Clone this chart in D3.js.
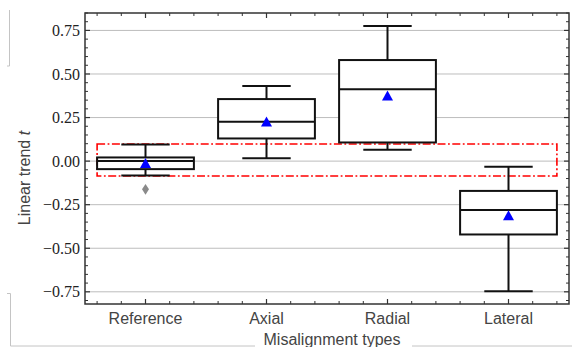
<!DOCTYPE html>
<html>
<head>
<meta charset="utf-8">
<script src="https://cdn.jsdelivr.net/npm/d3@7"></script>
<style>
	body { margin: 0; background: #fff; }
	svg { display: block; }
</style>
</head>
<body>
<svg></svg>
<script>
const width = 572;
const height = 347;
const margin = {top: 13, right: 3, bottom: 43, left: 85};
const frameColor = '#333';
const gridColor = '#bdbdbd';
const boxColor = '#111';
const meanColor = '#0000ff';
const outlierColor = '#8a8a8a';
const highlightColor = '#ff0000';

// data
const categories = ['Reference', 'Axial', 'Radial', 'Lateral'];
const whiskerLow = [-0.082, 0.017, 0.065, -0.747];
const q1 = [-0.046, 0.130, 0.107, -0.421];
const median = [0.000, 0.226, 0.412, -0.280];
const q3 = [0.021, 0.356, 0.580, -0.171];
const whiskerHigh = [0.096, 0.431, 0.776, -0.033];
const means = [-0.011, 0.228, 0.376, -0.311];
const outlierCategory = ['Reference'];
const outlierValue = [-0.162];
const yTicks = [-0.75, -0.50, -0.25, 0.00, 0.25, 0.50, 0.75];
const highlightRange = [-0.085, 0.098];
const yDomain = [-0.82, 0.85];

var svg;
var x;
var y;
var bw;
var layer;
var data;

function init(){
	svg = d3.select('svg').attr('width', width).attr('height', height);

	data = categories.map((c, i) => ({
		cat: c, lo: whiskerLow[i], q1: q1[i], med: median[i],
		q3: q3[i], hi: whiskerHigh[i], mean: means[i]
	}));

	x = d3.scaleBand().domain(categories)
	.range([margin.left, width - margin.right]).padding(0);
	y = d3.scaleLinear().domain(yDomain)
	.range([height - margin.bottom, margin.top]);
	bw = x.bandwidth();

	layer = {};
	for(var name of ['deco', 'grid', 'highlight', 'boxes', 'marks', 'frame', 'labels'])
		layer[name] = svg.append('g');

	// leftover frame lines of the cropped figure
	var deco = layer['deco'].attr('stroke', '#c4c4c4').attr('fill', 'none');
	deco.append('path').attr('d', 'M7,66H9.5V10');
	deco.append('path').attr('d', 'M7,293.5H10.5V346H' + width);

	// horizontal grid
	layer['grid'].selectAll('line').data(yTicks).enter().append('line')
	.attr('x1', margin.left).attr('x2', width - margin.right)
	.attr('y1', d => y(d)).attr('y2', d => y(d))
	.attr('stroke', gridColor).attr('stroke-width', 1);

	// red dash-dot highlight box
	layer['highlight'].append('rect')
	.attr('x', x(categories[0]) + 0.1*bw)
	.attr('width', x(categories[categories.length-1]) + 0.9*bw - (x(categories[0]) + 0.1*bw))
	.attr('y', y(highlightRange[1]))
	.attr('height', y(highlightRange[0]) - y(highlightRange[1]))
	.attr('fill', 'none').attr('stroke', highlightColor).attr('stroke-width', 1.6)
	.attr('stroke-dasharray', '8,2.5,1.8,2.5');

	// boxes
	var g = layer['boxes'].selectAll('g.box').data(data).enter().append('g')
	.classed('box', true)
	.attr('stroke', boxColor).attr('stroke-width', 2).attr('fill', 'none');

	g.append('line').attr('x1', d => x(d.cat) + bw/2).attr('x2', d => x(d.cat) + bw/2)
	.attr('y1', d => y(d.hi)).attr('y2', d => y(d.q3));
	g.append('line').attr('x1', d => x(d.cat) + bw/2).attr('x2', d => x(d.cat) + bw/2)
	.attr('y1', d => y(d.q1)).attr('y2', d => y(d.lo));
	g.append('line').attr('x1', d => x(d.cat) + 0.3*bw).attr('x2', d => x(d.cat) + 0.7*bw)
	.attr('y1', d => y(d.hi)).attr('y2', d => y(d.hi));
	g.append('line').attr('x1', d => x(d.cat) + 0.3*bw).attr('x2', d => x(d.cat) + 0.7*bw)
	.attr('y1', d => y(d.lo)).attr('y2', d => y(d.lo));
	g.append('rect').attr('x', d => x(d.cat) + 0.1*bw).attr('width', 0.8*bw)
	.attr('y', d => y(d.q3)).attr('height', d => y(d.q1) - y(d.q3))
	.attr('fill', '#fff');
	g.append('line').attr('x1', d => x(d.cat) + 0.1*bw).attr('x2', d => x(d.cat) + 0.9*bw)
	.attr('y1', d => y(d.med)).attr('y2', d => y(d.med));

	// means as triangles, outliers as thin diamonds
	layer['marks'].selectAll('path.mean').data(data).enter().append('path')
	.classed('mean', true)
	.attr('transform', d => 'translate(' + (x(d.cat) + bw/2) + ',' + y(d.mean) + ')')
	.attr('d', 'M0,-5L5.5,5L-5.5,5Z')
	.attr('fill', meanColor);

	layer['marks'].selectAll('path.outlier').data(outlierValue).enter().append('path')
	.classed('outlier', true)
	.attr('transform', (d, i) => 'translate(' + (x(outlierCategory[i]) + bw/2) + ',' + y(d) + ')')
	.attr('d', 'M0,-5.3L3.5,0L0,5.3L-3.5,0Z')
	.attr('fill', outlierColor);

	// frame with inward ticks on all four sides
	var top = margin.top, bottom = height - margin.bottom;
	var left = margin.left, right = width - margin.right;
	var frame = layer['frame'].attr('stroke', frameColor).attr('fill', 'none');

	var xMinor = [];
	categories.forEach(c => { for(var k=1; k<10; k+=2) if(k != 5) xMinor.push(x(c) + k*bw/10); });
	var xMajor = categories.map(c => x(c) + bw/2);
	var yMinor = d3.range(-16, 18).map(v => v*0.05).filter(v => !yTicks.some(t => Math.abs(t - v) < 1e-6));

	frame.selectAll('line.xmin').data(xMinor).enter().append('line')
	.attr('x1', d => d).attr('x2', d => d).attr('y1', bottom).attr('y2', bottom - 3)
	.attr('stroke-width', 1);
	frame.selectAll('line.xmint').data(xMinor).enter().append('line')
	.attr('x1', d => d).attr('x2', d => d).attr('y1', top).attr('y2', top + 3)
	.attr('stroke-width', 1);
	frame.selectAll('line.xmaj').data(xMajor).enter().append('line')
	.attr('x1', d => d).attr('x2', d => d).attr('y1', bottom).attr('y2', bottom - 5)
	.attr('stroke-width', 1.2);
	frame.selectAll('line.xmajt').data(xMajor).enter().append('line')
	.attr('x1', d => d).attr('x2', d => d).attr('y1', top).attr('y2', top + 5)
	.attr('stroke-width', 1.2);

	frame.selectAll('line.ymin').data(yMinor).enter().append('line')
	.attr('y1', d => y(d)).attr('y2', d => y(d)).attr('x1', left).attr('x2', left + 3)
	.attr('stroke-width', 1);
	frame.selectAll('line.yminr').data(yMinor).enter().append('line')
	.attr('y1', d => y(d)).attr('y2', d => y(d)).attr('x1', right).attr('x2', right - 3)
	.attr('stroke-width', 1);
	frame.selectAll('line.ymaj').data(yTicks).enter().append('line')
	.attr('y1', d => y(d)).attr('y2', d => y(d)).attr('x1', left).attr('x2', left + 5)
	.attr('stroke-width', 1.2);
	frame.selectAll('line.ymajr').data(yTicks).enter().append('line')
	.attr('y1', d => y(d)).attr('y2', d => y(d)).attr('x1', right).attr('x2', right - 5)
	.attr('stroke-width', 1.2);

	frame.append('rect').attr('x', left).attr('y', top)
	.attr('width', right - left).attr('height', bottom - top)
	.attr('stroke-width', 1.5);

	// tick labels
	var fmt = d3.format('.2f');
	layer['labels'].selectAll('text.ytick').data(yTicks).enter().append('text')
	.attr('x', left - 5).attr('y', d => y(d)).attr('dy', '0.35em')
	.attr('text-anchor', 'end')
	.style('font-family', '"Liberation Serif", serif').style('font-size', '16px')
	.style('fill', '#222')
	.text(d => fmt(d));

	layer['labels'].selectAll('text.xtick').data(categories).enter().append('text')
	.attr('x', d => x(d) + bw/2).attr('y', 324)
	.attr('text-anchor', 'middle')
	.style('font-family', '"Liberation Sans", Arial, sans-serif').style('font-size', '16px')
	.style('fill', '#444')
	.text(d => d);

	// axis titles
	layer['labels'].append('rect').attr('x', 255).attr('y', 330)
	.attr('width', 157).attr('height', 17).attr('fill', '#fff');
	layer['labels'].append('text')
	.attr('x', (left + right)/2 + 5).attr('y', 345)
	.attr('text-anchor', 'middle')
	.style('font-family', '"Liberation Sans", Arial, sans-serif').style('font-size', '16px')
	.style('fill', '#444')
	.text('Misalignment types');

	var yl = layer['labels'].append('text')
	.attr('transform', 'translate(30,178) rotate(-90)')
	.attr('text-anchor', 'middle')
	.style('font-family', '"Liberation Sans", Arial, sans-serif').style('font-size', '16px')
	.style('fill', '#444');
	yl.append('tspan').text('Linear trend ');
	yl.append('tspan').style('font-style', 'italic').text('t');
}

init();
</script>
</body>
</html>
